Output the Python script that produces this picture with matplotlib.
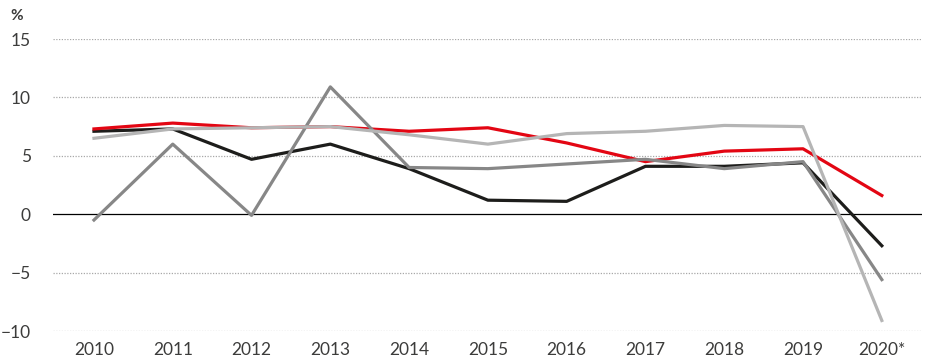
import matplotlib
matplotlib.use("Agg")
import matplotlib.pyplot as plt

years = ["2010", "2011", "2012", "2013", "2014", "2015", "2016", "2017", "2018", "2019", "2020*"]
red = [7.3, 7.8, 7.4, 7.5, 7.1, 7.4, 6.1, 4.5, 5.4, 5.6, 1.6]
black = [7.1, 7.3, 4.7, 6.0, 3.9, 1.2, 1.1, 4.1, 4.1, 4.4, -2.7]
dark_gray = [-0.5, 6.0, -0.1, 10.9, 4.0, 3.9, 4.3, 4.7, 3.9, 4.5, -5.6]
light_gray = [6.5, 7.3, 7.4, 7.5, 6.8, 6.0, 6.9, 7.1, 7.6, 7.5, -9.1]
yticks = [-10, -5, 0, 5, 10, 15]

plt.rcParams["font.family"] = ["Lato", "DejaVu Sans"]
fig = plt.figure(figsize=(9.32, 3.63), dpi=100)
ax = fig.add_axes([53 / 932, 32 / 363, 869 / 932, 292 / 363])
x = list(range(len(years)))

# dotted grid, solid zero line
for v in yticks:
    if v == 0:
        ax.axhline(v, color="black", lw=0.9, zorder=1)
    else:
        ax.axhline(v, color="#a8a8a8", lw=0.9, ls=(0, (1, 1.2)), zorder=1)

ax.plot(x, black, color="#1d1d1b", lw=2.3, zorder=3)
ax.plot(x, red, color="#e30613", lw=2.3, zorder=3)
ax.plot(x, dark_gray, color="#878787", lw=2.3, zorder=3)
ax.plot(x, light_gray, color="#b5b5b5", lw=2.3, zorder=3)

ax.set_xlim(-0.52, 10.51)
ax.set_ylim(-10, 15)
ax.set_xticks(x)
ax.set_xticklabels(years)
ax.set_yticks(yticks)
ax.tick_params(axis="both", length=0, labelsize=12.5, labelcolor="#3c3c3b")
ax.tick_params(axis="y", pad=16)
ax.tick_params(axis="x", pad=8)
for s in ax.spines.values():
    s.set_visible(False)

fig.text(10 / 932, 1 - 16 / 363, "%", fontsize=11, fontweight="bold", color="#3c3c3b", va="center", ha="left")

fig.savefig("out.png", dpi=100)
